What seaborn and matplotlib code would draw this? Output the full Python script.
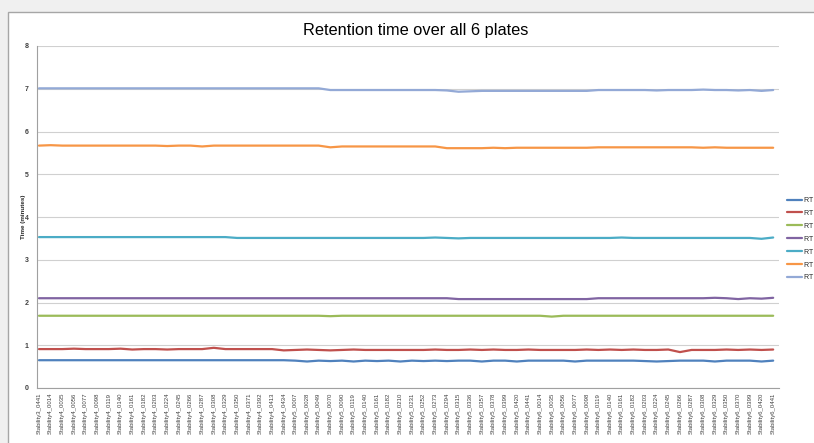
import numpy as np
import pandas as pd
import matplotlib
matplotlib.use("Agg")
import matplotlib.pyplot as plt
from matplotlib.patches import Rectangle
import seaborn as sns

# ---------------- data ----------------
labels = (["Stability3_0441"]
          + ["Stability4_%04d" % n for n in [14, 35, 56, 77, 98, 119, 140, 161, 182, 203, 224,
                                              245, 266, 287, 308, 329, 350, 371, 392, 413, 434]]
          + ["Stability5_%04d" % n for n in [7, 28, 49, 70, 90, 119, 140, 161, 182, 210, 231,
                                              252, 273, 294, 315, 336, 357, 378, 399, 420, 441]]
          + ["Stability6_%04d" % n for n in [14, 35, 56, 77, 98, 119, 140, 161, 182, 203, 224,
                                              245, 266, 287, 308, 329, 350, 370, 399, 420, 441]])

rt_a = ([0.65] * 22
        + [0.64, 0.62, 0.64, 0.63, 0.64, 0.62, 0.64, 0.63, 0.64, 0.62, 0.64, 0.63, 0.64, 0.63, 0.64, 0.64]
        + [0.62, 0.64, 0.64, 0.62, 0.64, 0.64, 0.64, 0.64, 0.62, 0.64, 0.64, 0.64, 0.64,
           0.64, 0.63, 0.62, 0.63, 0.64, 0.64, 0.64, 0.62, 0.64, 0.64, 0.64, 0.62, 0.64])
rt_b = ([0.91, 0.91, 0.91, 0.92, 0.91, 0.91, 0.91, 0.92, 0.90, 0.91, 0.91, 0.90, 0.91, 0.91,
         0.91, 0.94, 0.91, 0.91, 0.91, 0.91, 0.91]
        + [0.88, 0.89, 0.90, 0.89, 0.88, 0.89, 0.90, 0.89, 0.89, 0.89, 0.89, 0.89, 0.89, 0.90,
           0.89, 0.89, 0.90, 0.89, 0.90, 0.89, 0.89, 0.90, 0.89, 0.89, 0.89, 0.89, 0.90, 0.89,
           0.90, 0.89, 0.90, 0.89, 0.89, 0.90, 0.84, 0.89, 0.89, 0.89, 0.90, 0.89, 0.90, 0.89, 0.90])
rt_c = ([1.69] * 25 + [1.68] + [1.69] * 18 + [1.67] + [1.69] * 19)
rt_d = ([2.10] * 36 + [2.08] * 12 + [2.10] * 10 + [2.11, 2.10, 2.08, 2.10, 2.09, 2.11])
rt_e = ([3.53] * 17 + [3.51] * 17 + [3.52, 3.51, 3.50] + [3.51] * 13 + [3.52] + [3.51] * 11
        + [3.49, 3.52])
rt_f = ([5.67, 5.68] + [5.67] * 9 + [5.66, 5.67, 5.67, 5.65, 5.67] + [5.67] * 9
        + [5.63, 5.65] + [5.65] * 8 + [5.61] * 4 + [5.62, 5.61] + [5.62] * 7
        + [5.63] * 9 + [5.62, 5.63] + [5.62] * 5)
rt_g = ([7.01] * 25 + [6.97] * 10 + [6.96, 6.93, 6.94] + [6.95] * 10
        + [6.97] * 5 + [6.96] + [6.97] * 3 + [6.98] + [6.97] * 2 + [6.96] + [6.97] + [6.95, 6.97])

series_names = ["RT A", "RT B", "RT C", "RT D", "RT E", "RT F", "RT G"]
series_vals = [rt_a, rt_b, rt_c, rt_d, rt_e, rt_f, rt_g]
colors = ["#4F81BD", "#C0504D", "#9BBB59", "#8064A2", "#4BACC6", "#F79646", "#93A9D6"]

for v in series_vals:
    assert len(v) == len(labels), (len(v), len(labels))

pos = np.arange(len(labels))
df = pd.concat([pd.DataFrame({"pos": pos, "time": v, "series": n})
                for n, v in zip(series_names, series_vals)], ignore_index=True)

# ---------------- figure ----------------
sns.set_style("white")
plt.rcParams["font.family"] = ["Liberation Sans", "DejaVu Sans"]

W, H = 814, 443
fig = plt.figure(figsize=(W / 100, H / 100), dpi=100, facecolor="#F0F0F0")
fig.patches.append(Rectangle((8 / W, -0.05), 1.0, (H - 12) / H + 0.05, transform=fig.transFigure,
                             facecolor="white", edgecolor="#A6A6A6", linewidth=1.0, zorder=-10))

ax = fig.add_axes([37 / W, (H - 388) / H, (779 - 37) / W, (388 - 46) / H])
ax.set_facecolor("none")
ax.set_zorder(5)

sns.lineplot(data=df, x="pos", y="time", hue="series", palette=colors, ax=ax,
             linewidth=1.6, legend=False, sort=False)

ax.set_xlim(-0.17, 63.5)
ax.set_ylim(0, 8)
ax.set_yticks(range(0, 9))
ax.set_yticklabels([str(i) for i in range(0, 9)], fontsize=5, fontweight="bold", color="#404040")
ax.set_xticks(pos)
ax.set_xticklabels(labels, rotation=90, fontsize=4.3, color="#404040")
ax.tick_params(axis="x", length=2, width=0.6, color="#A0A0A0", pad=1.5)
ax.tick_params(axis="y", length=3, width=0.6, color="#A0A0A0", pad=3)
ax.yaxis.grid(True, color="#D0D0D0", linewidth=0.8)
ax.set_axisbelow(True)
for s in ["top", "right"]:
    ax.spines[s].set_visible(False)
for s in ["left", "bottom"]:
    ax.spines[s].set_color("#A0A0A0")
    ax.spines[s].set_linewidth(0.8)
ax.set_xlabel("")
ax.set_ylabel("Time (minutes)", fontsize=4.5, fontweight="bold", labelpad=-1)

fig.text(416 / W, 1 - 30 / H, "Retention time over all 6 plates", ha="center", va="center",
         fontsize=11.8, color="black")

handles = [plt.Line2D([], [], color=c, linewidth=1.6) for c in colors]
fig.legend(handles, series_names, loc="upper left", bbox_to_anchor=(787 / W, 1 - 197 / H),
           frameon=False, fontsize=5, handlelength=2.2, handletextpad=0.2,
           labelspacing=0.85, borderpad=0, borderaxespad=0)

fig.savefig("out.png", dpi=100, facecolor=fig.get_facecolor())
